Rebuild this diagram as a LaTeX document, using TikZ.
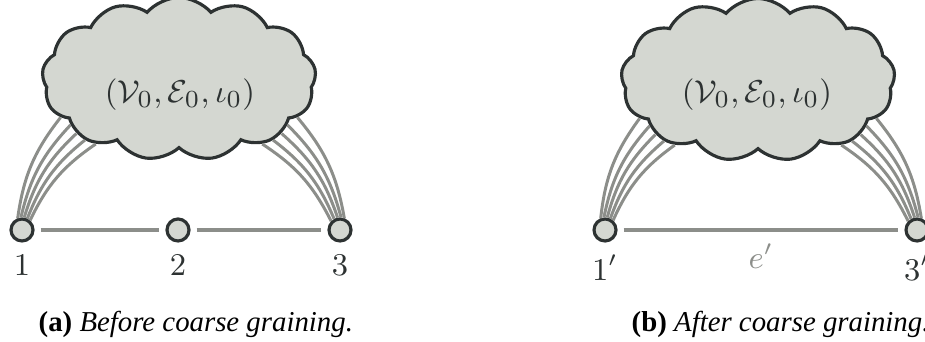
\documentclass[tikz,border=0pt]{standalone}
\usepackage{amssymb,amsmath}
\usepackage{fontspec}
\newfontfamily\capfont{Liberation Serif}
\usetikzlibrary{%
  calc,%
  shapes.symbols%
}
\definecolor{cloudfill}{HTML}{D4D7D1}
\definecolor{darkline}{HTML}{2D3232}
\definecolor{edgegray}{HTML}{8C8E8A}
\tikzset{vertex/.style = {circle, draw=darkline, fill=cloudfill, line width=0.9pt,
    minimum size=0.22cm, inner sep=0pt},
  blob/.style = {cloud, cloud puffs=13, cloud puff arc=100, cloud ignores aspect,
    draw=darkline, fill=cloudfill, line width=0.9pt, minimum width=2.74cm,
    minimum height=1.63cm, inner sep=0pt},
  multi/.style = {edgegray, line width=0.85pt},
  link/.style = {edgegray, line width=1.1pt, shorten <=0.06cm, shorten >=0.06cm},
  lbl/.style = {font=\fontsize{8.8}{10}\selectfont, text=darkline},
  caption/.style = {anchor=base west, inner sep=0pt,
    font=\capfont\fontsize{8.2}{10}\selectfont, text=black}}

\begin{document}
\begin{tikzpicture}
  \useasboundingbox (0,0) rectangle (9.25,3.42);
  % before
  \node[blob] (g) at (1.79,2.63) {};
  \node[lbl, font=\fontsize{9.4}{11}\selectfont] (gt) at (1.80,2.47) {$(\mathcal{V}_0,\mathcal{E}_0,\iota_0)$};
  \node[vertex, label={[lbl]below:$1$}] (n1) at (0.22,1.12) {};
  \node[vertex, label={[lbl]below:$2$}] (n2) at (1.78,1.12) {};
  \node[vertex, label={[lbl]below:$3$}] (n3) at (3.40,1.12) {};
  \draw[link] (n1) -- (n2);
  \draw[link] (n2) -- (n3);
  \foreach \a/\b in {110/198,95/203,80/208,65/213,50/218}
    \draw[multi] (n1.\a) to[bend left=15] (g.\b);
  \foreach \a/\b in {135/322,118/327,101/332,85/337,70/342}
    \draw[multi] (n3.\a) to[bend right=15] (g.\b);
  \node[caption] (capa) at (0.38,0.10) {\textbf{(a)} \textit{Before coarse graining.}};
  % after
  \node[blob] (h) at (7.58,2.62) {};
  \node[lbl, font=\fontsize{9.4}{11}\selectfont] (ht) at (7.57,2.47) {$(\mathcal{V}_0,\mathcal{E}_0,\iota_0)$};
  \node[vertex, label={[lbl]below:$1'$}] (m1) at (6.05,1.12) {};
  \node[vertex, label={[lbl]below:$3'$}] (m3) at (9.17,1.12) {};
  \draw[link] (m1) -- (m3) node[midway, below=0cm, lbl, text=edgegray] (ep) {$e'$};
  \foreach \a/\b in {110/198,95/203,80/208,65/213,50/218}
    \draw[multi] (m1.\a) to[bend left=15] (h.\b);
  \foreach \a/\b in {135/322,118/327,101/332,85/337,70/342}
    \draw[multi] (m3.\a) to[bend right=15] (h.\b);
  \node[caption] (capb) at (6.31,0.10) {\textbf{(b)} \textit{After coarse graining.}};
\end{tikzpicture}
\end{document}
